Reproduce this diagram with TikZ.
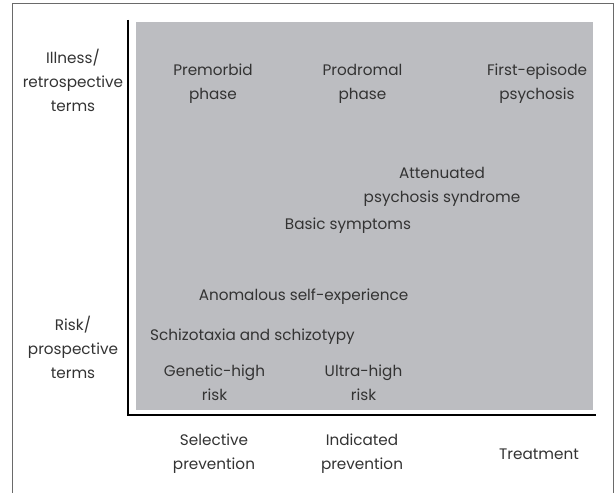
\documentclass[tikz,border=0pt]{standalone}
\usepackage{fontspec}
\setmainfont{Poppins}
\begin{document}
\begin{tikzpicture}[x=1bp,y=-1bp,
  lbl/.style={align=center,text=textgray,font=\fontsize{15.3}{24}\selectfont,inner sep=0pt},
  frameline/.style={draw=framegray,line width=0.9bp},
  axis/.style={draw=black,line width=2.2bp}]
\definecolor{panelgray}{HTML}{BCBDC1}
\definecolor{textgray}{HTML}{333333}
\definecolor{framegray}{HTML}{6A6A6A}
\useasboundingbox (0,0) rectangle (616,493);
% outer frame, open at the bottom
\draw[frameline] (12,493) -- (12,3) -- (613,3) -- (613,493);
% shaded field
\fill[panelgray] (136,22) rectangle (593,410);
% axes
\coordinate (ytop) at (128,20);
\coordinate (origin) at (128,415);
\coordinate (xend) at (596,415);
\draw[axis] (ytop) -- (origin) -- (xend);
% row labels
\node[lbl] (ill) at (73,80) {Illness/\\retrospective\\terms};
\node[lbl] (risk) at (73,347) {Risk/\\prospective\\terms};
% column labels
\node[lbl] (sel) at (214,454) {Selective\\prevention};
\node[lbl] (ind) at (362,454) {Indicated\\prevention};
\node[lbl] (treat) at (539,454) {Treatment};
% stages inside the field
\node[lbl] (pre) at (213,84) {Premorbid\\phase};
\node[lbl] (pro) at (362.5,84) {Prodromal\\phase};
\node[lbl] (fep) at (537,84) {First-episode\\psychosis};
\node[lbl] (aps) at (442,187) {Attenuated\\psychosis syndrome};
\node[lbl] (bs) at (348,226) {Basic symptoms};
\node[lbl] (ase) at (303.5,297) {Anomalous self-experience};
\node[lbl] (sch) at (252.5,337) {Schizotaxia and schizotypy};
\node[lbl] (ghr) at (214.5,383) {Genetic-high\\risk};
\node[lbl] (uhr) at (363.5,383) {Ultra-high\\risk};
\end{tikzpicture}
\end{document}
